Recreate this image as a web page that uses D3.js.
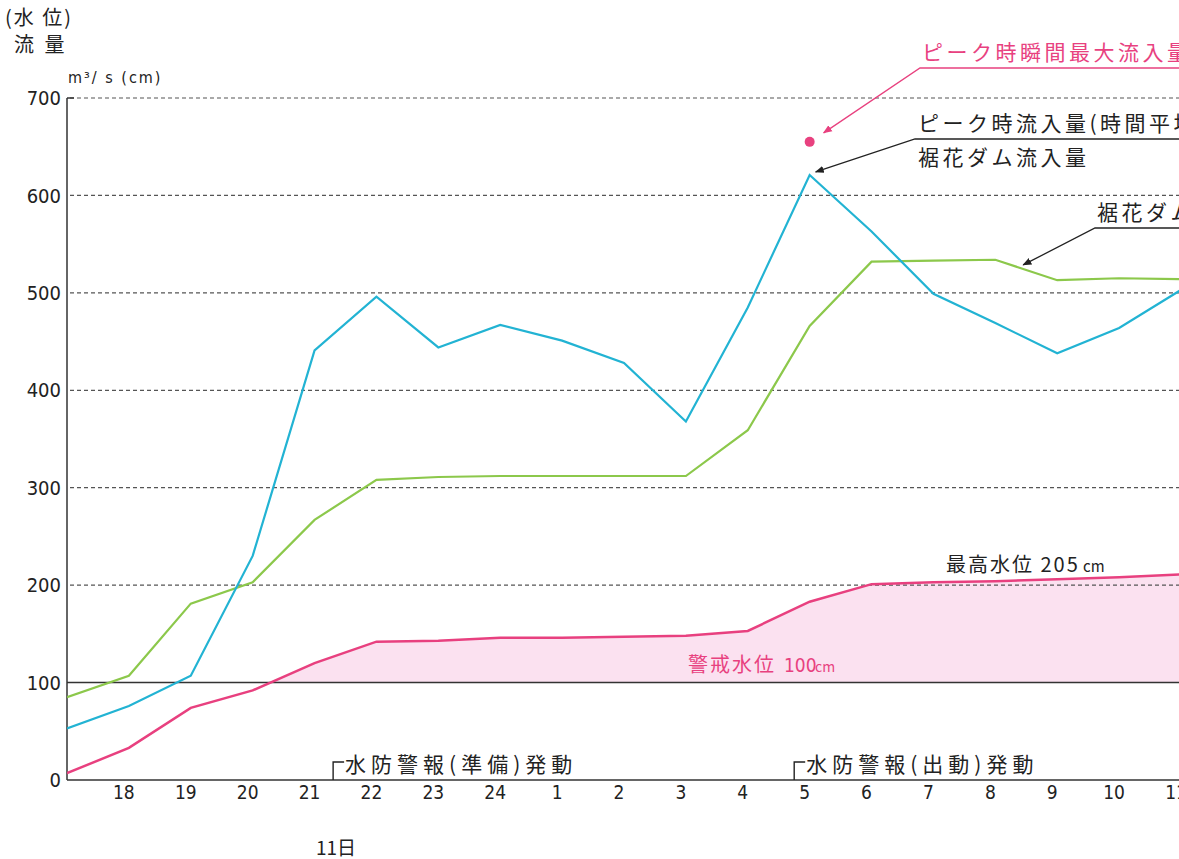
<!DOCTYPE html>
<html><head><meta charset="utf-8">
<script src="https://cdn.jsdelivr.net/npm/d3@7"></script>
<style>
html,body{margin:0;padding:0;background:#fff;overflow:hidden}
text{font-family:"Noto Sans CJK JP","Noto Sans",sans-serif}
.num{font-family:"Liberation Sans Narrow","DejaVu Sans Condensed","Roboto",sans-serif}
</style></head>
<body><svg id="c" width="1179" height="859"></svg>
<script>
// hour index 0 = 17時 (10日) ... 18 = 11時 (11日)
const hourLabels = ["17","18","19","20","21","22","23","24","1","2","3","4","5","6","7","8","9","10","11"];
const inflow  = [53,76,107,230,441,496,444,467,451,428,368,485,621,563,499,469,438,464,503]; // 裾花ダム流入量 m3/s
const outflow = [85,107,181,203,267,308,311,312,312,312,312,359,466,532,533,534,513,515,514]; // 裾花ダム放流量 m3/s
const level   = [7,33,74,92,120,142,143,146,146,147,148,153,183,201,203,204,206,208,211];  // 水位 cm
const yTicks = [0,100,200,300,400,500,600,700];
const warningLevel = 100;
const peakInstant = {k:12, v:655};

const svg = d3.select("#c");
const x = d3.scaleLinear().domain([0,18]).range([67,1181]);
const y = d3.scaleLinear().domain([0,700]).range([780,98]);
const W = 1179;

const defs = svg.append("defs");
defs.append("clipPath").attr("id","above").append("rect")
  .attr("x",67).attr("y",0).attr("width",W).attr("height",y(warningLevel));
defs.append("clipPath").attr("id","plot").append("rect")
  .attr("x",67).attr("y",0).attr("width",W).attr("height",790);
["blk","pnk"].forEach((id,i)=>{
  defs.append("marker").attr("id",id).attr("viewBox","0 0 10 10").attr("refX",9).attr("refY",5)
    .attr("markerWidth",9).attr("markerHeight",9).attr("orient","auto").attr("markerUnits","userSpaceOnUse")
    .append("path").attr("d","M0,1 L10,5 L0,9 Z").attr("fill", i?"#e8417f":"#222");
});

// pink fill between level and warning line
const area = d3.area().x((d,i)=>x(i)).y0(y(warningLevel)).y1(d=>y(d));
svg.append("path").datum(level).attr("d",area).attr("fill","#fbe1f0").attr("clip-path","url(#above)");

// gridlines
svg.append("g").selectAll("line").data(yTicks.filter(v=>v>=200)).join("line")
  .attr("x1",70).attr("x2",W).attr("y1",d=>y(d)).attr("y2",d=>y(d))
  .attr("stroke","#555").attr("stroke-width",1.2).attr("stroke-dasharray","4,3");
// warning line
svg.append("line").attr("x1",67).attr("x2",W).attr("y1",y(warningLevel)).attr("y2",y(warningLevel))
  .attr("stroke","#333").attr("stroke-width",1.5);

// axes
svg.append("line").attr("x1",67).attr("x2",67).attr("y1",y(700)).attr("y2",y(0)).attr("stroke","#333").attr("stroke-width",1.5);
svg.append("line").attr("x1",67).attr("x2",W).attr("y1",y(0)).attr("y2",y(0)).attr("stroke","#333").attr("stroke-width",1.5);
svg.append("line").attr("x1",67).attr("x2",74).attr("y1",y(700)).attr("y2",y(700)).attr("stroke","#333").attr("stroke-width",1.5);

svg.append("g").selectAll("text").data(yTicks).join("text").attr("class","num")
  .attr("x",61).attr("y",d=>y(d)).attr("dy","0.36em").attr("text-anchor","end")
  .attr("font-size",20).attr("fill","#222").text(d=>d);

svg.append("g").selectAll("text").data(hourLabels.slice(1)).join("text").attr("class","num")
  .attr("x",(d,i)=>x(i+1)-5).attr("y",799).attr("text-anchor","middle")
  .attr("font-size",19).attr("fill","#222").text(d=>d);

// lines
const line = d3.line().x((d,i)=>x(i)).y(d=>y(d));
const g = svg.append("g").attr("clip-path","url(#plot)");
g.append("path").datum(level).attr("d",line).attr("fill","none").attr("stroke","#e8407f").attr("stroke-width",2.5);
g.append("path").datum(outflow).attr("d",line).attr("fill","none").attr("stroke","#8cc84b").attr("stroke-width",2.2);
g.append("path").datum(inflow).attr("d",line).attr("fill","none").attr("stroke","#22b3d3").attr("stroke-width",2.2);
svg.append("circle").attr("cx",x(peakInstant.k)).attr("cy",y(peakInstant.v)).attr("r",5).attr("fill","#e8417f");

// titles
const T = (t,xx,yy,opt={})=>svg.append("text").attr("x",xx).attr("y",yy).attr("font-size",opt.fs||21)
  .attr("fill",opt.c||"#222").attr("letter-spacing",opt.ls!=null?opt.ls:3.5).attr("class",opt.cls||null).text(t);
T("(水 位)",5,25,{fs:20,ls:2});
T("流 量",14,52,{fs:20,ls:3});
T("m³/ s (cm)",68,83,{fs:16,ls:2,cls:"num"});

// annotations
const px = x(peakInstant.k), py = y(peakInstant.v);
T("ピーク時瞬間最大流入量",922,60,{c:"#e8417f"});
svg.append("polyline").attr("points",`${W},68 920,68 ${px+14},${py-9}`).attr("fill","none")
  .attr("stroke","#e8417f").attr("stroke-width",1.3).attr("marker-end","url(#pnk)");

const bx = x(12), by = y(inflow[12]);
T("ピーク時流入量(時間平均)",918,131);
T("裾花ダム流入量",918,165);
svg.append("polyline").attr("points",`${W},139 915,139 ${bx+6},${by-3}`).attr("fill","none")
  .attr("stroke","#222").attr("stroke-width",1.3).attr("marker-end","url(#blk)");

const gk = 15.45, gv = outflow[15]+(outflow[16]-outflow[15])*0.45;
T("裾花ダム放流量",1097,220);
svg.append("polyline").attr("points",`${W},228 1095,228 ${x(gk)},${y(gv)-4}`).attr("fill","none")
  .attr("stroke","#222").attr("stroke-width",1.3).attr("marker-end","url(#blk)");

T("最高水位 205",946,572,{fs:20,ls:2});
svg.append("text").attr("x",1083).attr("y",572).attr("font-size",15).attr("fill","#222").text("cm");
T("警戒水位",688,672,{c:"#e8417f",fs:20,ls:2});
svg.append("text").attr("x",784).attr("y",672).attr("font-size",19).attr("fill","#e8417f").attr("class","num").text("100");
svg.append("text").attr("x",815).attr("y",672).attr("font-size",14).attr("fill","#e8417f").text("cm");

// 水防警報 brackets
const bracket = (k,label)=>{
  const xx = x(k);
  svg.append("polyline").attr("points",`${xx},780 ${xx},762 ${xx+11},762`).attr("fill","none").attr("stroke","#222").attr("stroke-width",1.4);
  T(label,xx+12,772,{ls:5});
};
bracket(4.3,"水防警報(準備)発動");
bracket(11.75,"水防警報(出動)発動");

T("11日",316,855,{fs:19,ls:0});
</script></body></html>
